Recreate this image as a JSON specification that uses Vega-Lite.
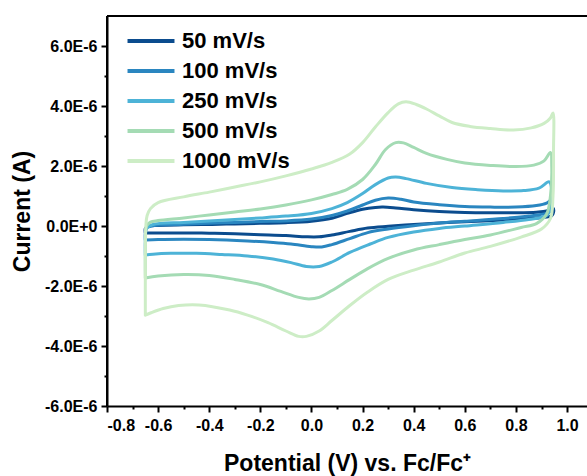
{
  "$schema": "https://vega.github.io/schema/vega-lite/v6.json",
  "width": 480,
  "height": 390,
  "autosize": {"type": "none"},
  "padding": {"left": 107, "top": 16, "right": 0, "bottom": 70},
  "background": "white",
  "config": {
    "view": {"stroke": null},
    "font": "Liberation Sans",
    "axis": {"grid": false, "domainColor": "black", "tickColor": "black", "labelColor": "black", "titleColor": "black", "domainWidth": 2, "tickWidth": 2, "labelFont": "Liberation Sans", "titleFont": "Liberation Sans", "labelFontWeight": "bold", "titleFontWeight": "bold"}
  },
  "datasets": {
    "cv": [
      {"rate":"50 mV/s","step":1,"potential":-0.65,"current":-0.23},
      {"rate":"50 mV/s","step":2,"potential":-0.65,"current":-0.08},
      {"rate":"50 mV/s","step":3,"potential":-0.64,"current":-0.01},
      {"rate":"50 mV/s","step":4,"potential":-0.6,"current":0.02},
      {"rate":"50 mV/s","step":5,"potential":-0.5,"current":0.04},
      {"rate":"50 mV/s","step":6,"potential":-0.4,"current":0.05},
      {"rate":"50 mV/s","step":7,"potential":-0.3,"current":0.07},
      {"rate":"50 mV/s","step":8,"potential":-0.2,"current":0.09},
      {"rate":"50 mV/s","step":9,"potential":-0.1,"current":0.11},
      {"rate":"50 mV/s","step":10,"potential":0.0,"current":0.16},
      {"rate":"50 mV/s","step":11,"potential":0.08,"current":0.26},
      {"rate":"50 mV/s","step":12,"potential":0.14,"current":0.42},
      {"rate":"50 mV/s","step":13,"potential":0.2,"current":0.56},
      {"rate":"50 mV/s","step":14,"potential":0.25,"current":0.62},
      {"rate":"50 mV/s","step":15,"potential":0.28,"current":0.63},
      {"rate":"50 mV/s","step":16,"potential":0.33,"current":0.6},
      {"rate":"50 mV/s","step":17,"potential":0.4,"current":0.54},
      {"rate":"50 mV/s","step":18,"potential":0.5,"current":0.48},
      {"rate":"50 mV/s","step":19,"potential":0.6,"current":0.45},
      {"rate":"50 mV/s","step":20,"potential":0.7,"current":0.44},
      {"rate":"50 mV/s","step":21,"potential":0.8,"current":0.44},
      {"rate":"50 mV/s","step":22,"potential":0.88,"current":0.46},
      {"rate":"50 mV/s","step":23,"potential":0.92,"current":0.5},
      {"rate":"50 mV/s","step":24,"potential":0.945,"current":0.6},
      {"rate":"50 mV/s","step":25,"potential":0.947,"current":0.45},
      {"rate":"50 mV/s","step":26,"potential":0.94,"current":0.34},
      {"rate":"50 mV/s","step":27,"potential":0.92,"current":0.3},
      {"rate":"50 mV/s","step":28,"potential":0.85,"current":0.25},
      {"rate":"50 mV/s","step":29,"potential":0.75,"current":0.2},
      {"rate":"50 mV/s","step":30,"potential":0.6,"current":0.14},
      {"rate":"50 mV/s","step":31,"potential":0.5,"current":0.1},
      {"rate":"50 mV/s","step":32,"potential":0.4,"current":0.05},
      {"rate":"50 mV/s","step":33,"potential":0.3,"current":-0.01},
      {"rate":"50 mV/s","step":34,"potential":0.22,"current":-0.07},
      {"rate":"50 mV/s","step":35,"potential":0.15,"current":-0.18},
      {"rate":"50 mV/s","step":36,"potential":0.08,"current":-0.3},
      {"rate":"50 mV/s","step":37,"potential":0.03,"current":-0.36},
      {"rate":"50 mV/s","step":38,"potential":-0.02,"current":-0.36},
      {"rate":"50 mV/s","step":39,"potential":-0.1,"current":-0.32},
      {"rate":"50 mV/s","step":40,"potential":-0.2,"current":-0.29},
      {"rate":"50 mV/s","step":41,"potential":-0.3,"current":-0.26},
      {"rate":"50 mV/s","step":42,"potential":-0.4,"current":-0.24},
      {"rate":"50 mV/s","step":43,"potential":-0.5,"current":-0.23},
      {"rate":"50 mV/s","step":44,"potential":-0.6,"current":-0.23},
      {"rate":"50 mV/s","step":45,"potential":-0.65,"current":-0.23},

      {"rate":"100 mV/s","step":1,"potential":-0.65,"current":-0.47},
      {"rate":"100 mV/s","step":2,"potential":-0.65,"current":-0.25},
      {"rate":"100 mV/s","step":3,"potential":-0.645,"current":-0.06},
      {"rate":"100 mV/s","step":4,"potential":-0.62,"current":0.01},
      {"rate":"100 mV/s","step":5,"potential":-0.5,"current":0.06},
      {"rate":"100 mV/s","step":6,"potential":-0.4,"current":0.09},
      {"rate":"100 mV/s","step":7,"potential":-0.3,"current":0.12},
      {"rate":"100 mV/s","step":8,"potential":-0.2,"current":0.15},
      {"rate":"100 mV/s","step":9,"potential":-0.1,"current":0.17},
      {"rate":"100 mV/s","step":10,"potential":0.0,"current":0.23},
      {"rate":"100 mV/s","step":11,"potential":0.08,"current":0.35},
      {"rate":"100 mV/s","step":12,"potential":0.14,"current":0.5},
      {"rate":"100 mV/s","step":13,"potential":0.2,"current":0.7},
      {"rate":"100 mV/s","step":14,"potential":0.25,"current":0.86},
      {"rate":"100 mV/s","step":15,"potential":0.3,"current":0.93},
      {"rate":"100 mV/s","step":16,"potential":0.35,"current":0.89},
      {"rate":"100 mV/s","step":17,"potential":0.4,"current":0.8},
      {"rate":"100 mV/s","step":18,"potential":0.5,"current":0.71},
      {"rate":"100 mV/s","step":19,"potential":0.6,"current":0.65},
      {"rate":"100 mV/s","step":20,"potential":0.7,"current":0.63},
      {"rate":"100 mV/s","step":21,"potential":0.8,"current":0.63},
      {"rate":"100 mV/s","step":22,"potential":0.88,"current":0.68},
      {"rate":"100 mV/s","step":23,"potential":0.92,"current":0.76},
      {"rate":"100 mV/s","step":24,"potential":0.94,"current":0.88},
      {"rate":"100 mV/s","step":25,"potential":0.942,"current":0.65},
      {"rate":"100 mV/s","step":26,"potential":0.935,"current":0.48},
      {"rate":"100 mV/s","step":27,"potential":0.92,"current":0.42},
      {"rate":"100 mV/s","step":28,"potential":0.85,"current":0.33},
      {"rate":"100 mV/s","step":29,"potential":0.75,"current":0.25},
      {"rate":"100 mV/s","step":30,"potential":0.6,"current":0.16},
      {"rate":"100 mV/s","step":31,"potential":0.5,"current":0.1},
      {"rate":"100 mV/s","step":32,"potential":0.4,"current":0.01},
      {"rate":"100 mV/s","step":33,"potential":0.3,"current":-0.1},
      {"rate":"100 mV/s","step":34,"potential":0.22,"current":-0.22},
      {"rate":"100 mV/s","step":35,"potential":0.15,"current":-0.42},
      {"rate":"100 mV/s","step":36,"potential":0.08,"current":-0.62},
      {"rate":"100 mV/s","step":37,"potential":0.04,"current":-0.7},
      {"rate":"100 mV/s","step":38,"potential":0.0,"current":-0.69},
      {"rate":"100 mV/s","step":39,"potential":-0.08,"current":-0.6},
      {"rate":"100 mV/s","step":40,"potential":-0.15,"current":-0.55},
      {"rate":"100 mV/s","step":41,"potential":-0.25,"current":-0.5},
      {"rate":"100 mV/s","step":42,"potential":-0.4,"current":-0.45},
      {"rate":"100 mV/s","step":43,"potential":-0.5,"current":-0.44},
      {"rate":"100 mV/s","step":44,"potential":-0.6,"current":-0.45},
      {"rate":"100 mV/s","step":45,"potential":-0.65,"current":-0.47},

      {"rate":"250 mV/s","step":1,"potential":-0.65,"current":-0.97},
      {"rate":"250 mV/s","step":2,"potential":-0.65,"current":-0.5},
      {"rate":"250 mV/s","step":3,"potential":-0.645,"current":-0.08},
      {"rate":"250 mV/s","step":4,"potential":-0.62,"current":0.05},
      {"rate":"250 mV/s","step":5,"potential":-0.5,"current":0.12},
      {"rate":"250 mV/s","step":6,"potential":-0.4,"current":0.17},
      {"rate":"250 mV/s","step":7,"potential":-0.3,"current":0.22},
      {"rate":"250 mV/s","step":8,"potential":-0.2,"current":0.27},
      {"rate":"250 mV/s","step":9,"potential":-0.1,"current":0.33},
      {"rate":"250 mV/s","step":10,"potential":0.0,"current":0.42},
      {"rate":"250 mV/s","step":11,"potential":0.08,"current":0.58},
      {"rate":"250 mV/s","step":12,"potential":0.14,"current":0.78},
      {"rate":"250 mV/s","step":13,"potential":0.2,"current":1.08},
      {"rate":"250 mV/s","step":14,"potential":0.25,"current":1.38},
      {"rate":"250 mV/s","step":15,"potential":0.3,"current":1.6},
      {"rate":"250 mV/s","step":16,"potential":0.33,"current":1.63},
      {"rate":"250 mV/s","step":17,"potential":0.37,"current":1.58},
      {"rate":"250 mV/s","step":18,"potential":0.45,"current":1.42},
      {"rate":"250 mV/s","step":19,"potential":0.55,"current":1.28},
      {"rate":"250 mV/s","step":20,"potential":0.65,"current":1.21},
      {"rate":"250 mV/s","step":21,"potential":0.75,"current":1.17},
      {"rate":"250 mV/s","step":22,"potential":0.83,"current":1.18},
      {"rate":"250 mV/s","step":23,"potential":0.89,"current":1.26},
      {"rate":"250 mV/s","step":24,"potential":0.93,"current":1.47},
      {"rate":"250 mV/s","step":25,"potential":0.94,"current":1.2},
      {"rate":"250 mV/s","step":26,"potential":0.935,"current":0.6},
      {"rate":"250 mV/s","step":27,"potential":0.92,"current":0.35},
      {"rate":"250 mV/s","step":28,"potential":0.85,"current":0.22},
      {"rate":"250 mV/s","step":29,"potential":0.75,"current":0.12},
      {"rate":"250 mV/s","step":30,"potential":0.6,"current":0.0},
      {"rate":"250 mV/s","step":31,"potential":0.5,"current":-0.08},
      {"rate":"250 mV/s","step":32,"potential":0.4,"current":-0.2},
      {"rate":"250 mV/s","step":33,"potential":0.3,"current":-0.38},
      {"rate":"250 mV/s","step":34,"potential":0.23,"current":-0.6},
      {"rate":"250 mV/s","step":35,"potential":0.15,"current":-0.88},
      {"rate":"250 mV/s","step":36,"potential":0.08,"current":-1.2},
      {"rate":"250 mV/s","step":37,"potential":0.03,"current":-1.35},
      {"rate":"250 mV/s","step":38,"potential":-0.02,"current":-1.35},
      {"rate":"250 mV/s","step":39,"potential":-0.08,"current":-1.22},
      {"rate":"250 mV/s","step":40,"potential":-0.15,"current":-1.1},
      {"rate":"250 mV/s","step":41,"potential":-0.25,"current":-1.0},
      {"rate":"250 mV/s","step":42,"potential":-0.35,"current":-0.95},
      {"rate":"250 mV/s","step":43,"potential":-0.45,"current":-0.91},
      {"rate":"250 mV/s","step":44,"potential":-0.55,"current":-0.91},
      {"rate":"250 mV/s","step":45,"potential":-0.62,"current":-0.94},
      {"rate":"250 mV/s","step":46,"potential":-0.65,"current":-0.97},

      {"rate":"500 mV/s","step":1,"potential":-0.65,"current":-1.73},
      {"rate":"500 mV/s","step":2,"potential":-0.65,"current":-0.8},
      {"rate":"500 mV/s","step":3,"potential":-0.645,"current":0.0},
      {"rate":"500 mV/s","step":4,"potential":-0.63,"current":0.13},
      {"rate":"500 mV/s","step":5,"potential":-0.6,"current":0.18},
      {"rate":"500 mV/s","step":6,"potential":-0.5,"current":0.27},
      {"rate":"500 mV/s","step":7,"potential":-0.4,"current":0.37},
      {"rate":"500 mV/s","step":8,"potential":-0.3,"current":0.47},
      {"rate":"500 mV/s","step":9,"potential":-0.2,"current":0.57},
      {"rate":"500 mV/s","step":10,"potential":-0.1,"current":0.7},
      {"rate":"500 mV/s","step":11,"potential":0.0,"current":0.87},
      {"rate":"500 mV/s","step":12,"potential":0.08,"current":1.05},
      {"rate":"500 mV/s","step":13,"potential":0.14,"current":1.22},
      {"rate":"500 mV/s","step":14,"potential":0.2,"current":1.55},
      {"rate":"500 mV/s","step":15,"potential":0.25,"current":2.05},
      {"rate":"500 mV/s","step":16,"potential":0.29,"current":2.55},
      {"rate":"500 mV/s","step":17,"potential":0.33,"current":2.78},
      {"rate":"500 mV/s","step":18,"potential":0.36,"current":2.77},
      {"rate":"500 mV/s","step":19,"potential":0.4,"current":2.62},
      {"rate":"500 mV/s","step":20,"potential":0.45,"current":2.42},
      {"rate":"500 mV/s","step":21,"potential":0.53,"current":2.22},
      {"rate":"500 mV/s","step":22,"potential":0.6,"current":2.1},
      {"rate":"500 mV/s","step":23,"potential":0.7,"current":2.02},
      {"rate":"500 mV/s","step":24,"potential":0.8,"current":1.98},
      {"rate":"500 mV/s","step":25,"potential":0.87,"current":2.03},
      {"rate":"500 mV/s","step":26,"potential":0.91,"current":2.17},
      {"rate":"500 mV/s","step":27,"potential":0.935,"current":2.45},
      {"rate":"500 mV/s","step":28,"potential":0.94,"current":2.0},
      {"rate":"500 mV/s","step":29,"potential":0.935,"current":1.0},
      {"rate":"500 mV/s","step":30,"potential":0.92,"current":0.4},
      {"rate":"500 mV/s","step":31,"potential":0.88,"current":0.08},
      {"rate":"500 mV/s","step":32,"potential":0.82,"current":-0.05},
      {"rate":"500 mV/s","step":33,"potential":0.7,"current":-0.3},
      {"rate":"500 mV/s","step":34,"potential":0.6,"current":-0.45},
      {"rate":"500 mV/s","step":35,"potential":0.5,"current":-0.62},
      {"rate":"500 mV/s","step":36,"potential":0.4,"current":-0.8},
      {"rate":"500 mV/s","step":37,"potential":0.3,"current":-1.08},
      {"rate":"500 mV/s","step":38,"potential":0.22,"current":-1.42},
      {"rate":"500 mV/s","step":39,"potential":0.15,"current":-1.78},
      {"rate":"500 mV/s","step":40,"potential":0.08,"current":-2.15},
      {"rate":"500 mV/s","step":41,"potential":0.03,"current":-2.38},
      {"rate":"500 mV/s","step":42,"potential":-0.01,"current":-2.43},
      {"rate":"500 mV/s","step":43,"potential":-0.05,"current":-2.38},
      {"rate":"500 mV/s","step":44,"potential":-0.12,"current":-2.18},
      {"rate":"500 mV/s","step":45,"potential":-0.2,"current":-1.95},
      {"rate":"500 mV/s","step":46,"potential":-0.3,"current":-1.78},
      {"rate":"500 mV/s","step":47,"potential":-0.4,"current":-1.65},
      {"rate":"500 mV/s","step":48,"potential":-0.5,"current":-1.62},
      {"rate":"500 mV/s","step":49,"potential":-0.6,"current":-1.67},
      {"rate":"500 mV/s","step":50,"potential":-0.65,"current":-1.73},

      {"rate":"1000 mV/s","step":1,"potential":-0.65,"current":-2.97},
      {"rate":"1000 mV/s","step":2,"potential":-0.65,"current":-1.5},
      {"rate":"1000 mV/s","step":3,"potential":-0.648,"current":0.0},
      {"rate":"1000 mV/s","step":4,"potential":-0.643,"current":0.35},
      {"rate":"1000 mV/s","step":5,"potential":-0.63,"current":0.58},
      {"rate":"1000 mV/s","step":6,"potential":-0.6,"current":0.78},
      {"rate":"1000 mV/s","step":7,"potential":-0.5,"current":0.97},
      {"rate":"1000 mV/s","step":8,"potential":-0.4,"current":1.13},
      {"rate":"1000 mV/s","step":9,"potential":-0.3,"current":1.3},
      {"rate":"1000 mV/s","step":10,"potential":-0.2,"current":1.47},
      {"rate":"1000 mV/s","step":11,"potential":-0.1,"current":1.67},
      {"rate":"1000 mV/s","step":12,"potential":0.0,"current":1.9},
      {"rate":"1000 mV/s","step":13,"potential":0.08,"current":2.12},
      {"rate":"1000 mV/s","step":14,"potential":0.15,"current":2.4},
      {"rate":"1000 mV/s","step":15,"potential":0.2,"current":2.78},
      {"rate":"1000 mV/s","step":16,"potential":0.25,"current":3.3},
      {"rate":"1000 mV/s","step":17,"potential":0.3,"current":3.78},
      {"rate":"1000 mV/s","step":18,"potential":0.34,"current":4.07},
      {"rate":"1000 mV/s","step":19,"potential":0.37,"current":4.14},
      {"rate":"1000 mV/s","step":20,"potential":0.41,"current":4.05},
      {"rate":"1000 mV/s","step":21,"potential":0.45,"current":3.9},
      {"rate":"1000 mV/s","step":22,"potential":0.5,"current":3.67},
      {"rate":"1000 mV/s","step":23,"potential":0.55,"current":3.45},
      {"rate":"1000 mV/s","step":24,"potential":0.62,"current":3.32},
      {"rate":"1000 mV/s","step":25,"potential":0.7,"current":3.25},
      {"rate":"1000 mV/s","step":26,"potential":0.79,"current":3.2},
      {"rate":"1000 mV/s","step":27,"potential":0.86,"current":3.27},
      {"rate":"1000 mV/s","step":28,"potential":0.91,"current":3.42},
      {"rate":"1000 mV/s","step":29,"potential":0.935,"current":3.6},
      {"rate":"1000 mV/s","step":30,"potential":0.945,"current":3.77},
      {"rate":"1000 mV/s","step":31,"potential":0.947,"current":2.5},
      {"rate":"1000 mV/s","step":32,"potential":0.945,"current":1.0},
      {"rate":"1000 mV/s","step":33,"potential":0.935,"current":0.25},
      {"rate":"1000 mV/s","step":34,"potential":0.9,"current":-0.1},
      {"rate":"1000 mV/s","step":35,"potential":0.82,"current":-0.37},
      {"rate":"1000 mV/s","step":36,"potential":0.7,"current":-0.68},
      {"rate":"1000 mV/s","step":37,"potential":0.6,"current":-0.9},
      {"rate":"1000 mV/s","step":38,"potential":0.5,"current":-1.2},
      {"rate":"1000 mV/s","step":39,"potential":0.4,"current":-1.47},
      {"rate":"1000 mV/s","step":40,"potential":0.3,"current":-1.78},
      {"rate":"1000 mV/s","step":41,"potential":0.22,"current":-2.2},
      {"rate":"1000 mV/s","step":42,"potential":0.15,"current":-2.65},
      {"rate":"1000 mV/s","step":43,"potential":0.08,"current":-3.15},
      {"rate":"1000 mV/s","step":44,"potential":0.03,"current":-3.5},
      {"rate":"1000 mV/s","step":45,"potential":-0.02,"current":-3.68},
      {"rate":"1000 mV/s","step":46,"potential":-0.05,"current":-3.68},
      {"rate":"1000 mV/s","step":47,"potential":-0.1,"current":-3.5},
      {"rate":"1000 mV/s","step":48,"potential":-0.17,"current":-3.22},
      {"rate":"1000 mV/s","step":49,"potential":-0.25,"current":-2.97},
      {"rate":"1000 mV/s","step":50,"potential":-0.32,"current":-2.8},
      {"rate":"1000 mV/s","step":51,"potential":-0.44,"current":-2.63},
      {"rate":"1000 mV/s","step":52,"potential":-0.52,"current":-2.65},
      {"rate":"1000 mV/s","step":53,"potential":-0.58,"current":-2.75},
      {"rate":"1000 mV/s","step":54,"potential":-0.63,"current":-2.9},
      {"rate":"1000 mV/s","step":55,"potential":-0.65,"current":-2.97}
    ]
  },
  "data": {"name": "cv"},
  "layer": [
    {
      "mark": {"type": "line", "strokeWidth": 3, "interpolate": "catmull-rom", "strokeJoin": "round", "strokeCap": "round"},
      "encoding": {
        "x": {"field": "potential", "type": "quantitative", "scale": {"domain": [-0.8, 1.078], "nice": false, "zero": false},
          "axis": {"orient": "bottom", "values": [-0.8, -0.6, -0.4, -0.2, 0, 0.2, 0.4, 0.6, 0.8, 1.0], "tickSize": 6, "labelFontSize": 16, "labelPadding": 5,
            "labelExpr": "replace(format(datum.value, '.1f'), '\u2212', '-')",
            "title": "Potential (V) vs. Fc/Fc\u207a", "titleFontSize": 23, "titlePadding": 19}},
        "y": {"field": "current", "type": "quantitative", "scale": {"domain": [-6, 7], "nice": false, "zero": false},
          "axis": {"orient": "left", "values": [-6, -4, -2, 0, 2, 4, 6], "tickSize": 6, "labelFontSize": 16, "labelPadding": 4,
            "labelExpr": "datum.value == 0 ? '0.0E+0' : replace(format(datum.value, '.1f'), '\u2212', '-') + 'E-6'",
            "title": "Current (A)", "titleFontSize": 23, "titlePadding": 10}},
        "color": {"field": "rate", "type": "nominal",
          "scale": {"domain": ["50 mV/s", "100 mV/s", "250 mV/s", "500 mV/s", "1000 mV/s"], "range": ["#0b4c8e", "#2a86c0", "#4db3d7", "#a4dbb4", "#cdedc6"]},
          "legend": {"orient": "none", "legendX": 33, "legendY": 14, "title": null, "symbolType": "M-3,0H3", "symbolSize": 245, "symbolStrokeWidth": 4,
            "labelFont": "Liberation Sans", "labelFontSize": 22, "labelFontWeight": "bold", "labelColor": "black", "labelOffset": 20, "rowPadding": 8, "padding": 0}},
        "order": {"field": "step", "type": "quantitative"}
      }
    },
    {
      "mark": {"type": "rule", "strokeWidth": 2, "color": "black"},
      "encoding": {
        "y": {"datum": 7, "type": "quantitative", "scale": {"domain": [-6, 7], "nice": false, "zero": false},
          "axis": {"orient": "left", "values": [-5, -3, -1, 1, 3, 5], "labels": false, "domain": false, "tickSize": 3, "title": null}}
      }
    },
    {
      "mark": {"type": "rule", "strokeWidth": 2, "color": "black"},
      "encoding": {
        "x": {"datum": -0.8, "type": "quantitative", "scale": {"domain": [-0.8, 1.078], "nice": false, "zero": false},
          "axis": {"orient": "bottom", "values": [-0.7, -0.5, -0.3, -0.1, 0.1, 0.3, 0.5, 0.7, 0.9], "labels": false, "domain": false, "tickSize": 3, "title": null}}
      }
    }
  ],
  "resolve": {"axis": {"x": "independent", "y": "independent"}}
}
